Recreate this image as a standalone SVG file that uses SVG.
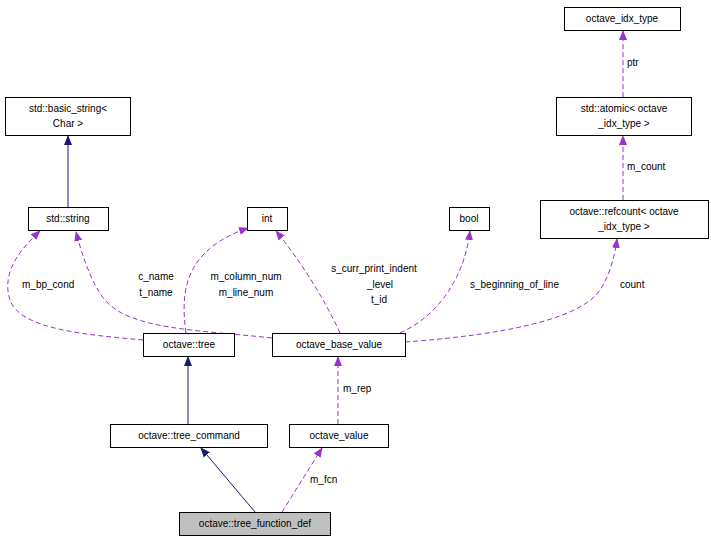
<svg xmlns="http://www.w3.org/2000/svg" width="711" height="543" viewBox="0 0 711 543">
<style>
text{font-family:"Liberation Sans",Arial,sans-serif;font-size:10px;fill:#000}
.n rect{fill:#fff;stroke:#000;stroke-width:1}
.c{text-anchor:middle}
.s{fill:none;stroke:#191970;stroke-width:1}
.d{fill:none;stroke:#9a32cd;stroke-width:1;stroke-dasharray:5,3}
</style>
<defs>
<marker id="an" markerWidth="10" markerHeight="10" refX="9" refY="5" orient="auto" markerUnits="userSpaceOnUse"><path d="M0,1L10,5L0,9z" fill="#191970"/></marker>
<marker id="ap" markerWidth="10" markerHeight="10" refX="9" refY="5" orient="auto" markerUnits="userSpaceOnUse"><path d="M0,1L10,5L0,9z" fill="#9a32cd"/></marker>
</defs>
<rect width="711" height="543" fill="#fff"/>
<g id="edges">
<path class="s" d="M68,207V136" marker-end="url(#an)"/>
<path class="d" d="M623,97V31" marker-end="url(#ap)"/>
<text x="627" y="66">ptr</text>
<path class="d" d="M623,200V136" marker-end="url(#ap)"/>
<text x="627" y="170">m_count</text>
<path class="d" d="M143,340C90,335 20,330 10,300C0,270 25,245 40,231" marker-end="url(#ap)"/>
<text x="22" y="288">m_bp_cond</text>
<path class="d" d="M272,338C200,330 130,330 105,300C92,285 82,255 76,232" marker-end="url(#ap)"/>
<text x="156" y="280" class="c">c_name</text>
<text x="156" y="296" class="c">t_name</text>
<path class="d" d="M186,333C180,290 185,250 248,228" marker-end="url(#ap)"/>
<text x="246" y="280" class="c">m_column_num</text>
<text x="246" y="296" class="c">m_line_num</text>
<path class="d" d="M340,333C325,300 300,260 276,231" marker-end="url(#ap)"/>
<text x="374" y="272" class="c">s_curr_print_indent</text>
<text x="380" y="288" class="c">_level</text>
<text x="379" y="303" class="c">t_id</text>
<path class="d" d="M400,333C440,315 465,275 470,231" marker-end="url(#ap)"/>
<text x="470" y="288">s_beginning_of_line</text>
<path class="d" d="M405,342C500,335 580,320 600,290C610,275 615,255 617,239" marker-end="url(#ap)"/>
<text x="620" y="288">count</text>
<path class="s" d="M188,424V357" marker-end="url(#an)"/>
<path class="d" d="M338,424V357" marker-end="url(#ap)"/>
<text x="343" y="392">m_rep</text>
<path class="s" d="M255,512L201,448" marker-end="url(#an)"/>
<path class="d" d="M282,512L322,448" marker-end="url(#ap)"/>
<text x="310" y="483">m_fcn</text>
</g>
<g id="octave_idx_type" class="n"><rect x="564.5" y="7.5" width="116" height="23"/><text x="622" y="22" class="c">octave_idx_type</text></g>
<g id="atomic" class="n"><rect x="556.5" y="97.5" width="135" height="38"/><text x="624" y="112" class="c">std::atomic&lt; octave</text><text x="624" y="127" class="c">_idx_type &gt;</text></g>
<g id="refcount" class="n"><rect x="540.5" y="200.5" width="168" height="38"/><text x="624" y="215" class="c">octave::refcount&lt; octave</text><text x="624" y="230" class="c">_idx_type &gt;</text></g>
<g id="basic_string" class="n"><rect x="5.5" y="97.5" width="125" height="38"/><text x="68" y="112" class="c">std::basic_string&lt;</text><text x="68" y="127" class="c">Char &gt;</text></g>
<g id="string" class="n"><rect x="28.5" y="207.5" width="80" height="23"/><text x="68" y="222" class="c">std::string</text></g>
<g id="int" class="n"><rect x="247.5" y="207.5" width="40" height="23"/><text x="267" y="222" class="c">int</text></g>
<g id="bool" class="n"><rect x="449.5" y="207.5" width="40" height="23"/><text x="469" y="222" class="c">bool</text></g>
<g id="tree" class="n"><rect x="143.5" y="333.5" width="91" height="23"/><text x="189" y="348" class="c">octave::tree</text></g>
<g id="octave_base_value" class="n"><rect x="272.5" y="333.5" width="133" height="23"/><text x="339" y="348" class="c">octave_base_value</text></g>
<g id="tree_command" class="n"><rect x="110.5" y="424.5" width="157" height="23"/><text x="189" y="439" class="c">octave::tree_command</text></g>
<g id="octave_value" class="n"><rect x="289.5" y="424.5" width="99" height="23"/><text x="339" y="439" class="c">octave_value</text></g>
<g id="tree_function_def" class="n"><rect x="179.5" y="512.5" width="151" height="23" style="fill:#bfbfbf"/><text x="255" y="527" class="c">octave::tree_function_def</text></g>
</svg>
